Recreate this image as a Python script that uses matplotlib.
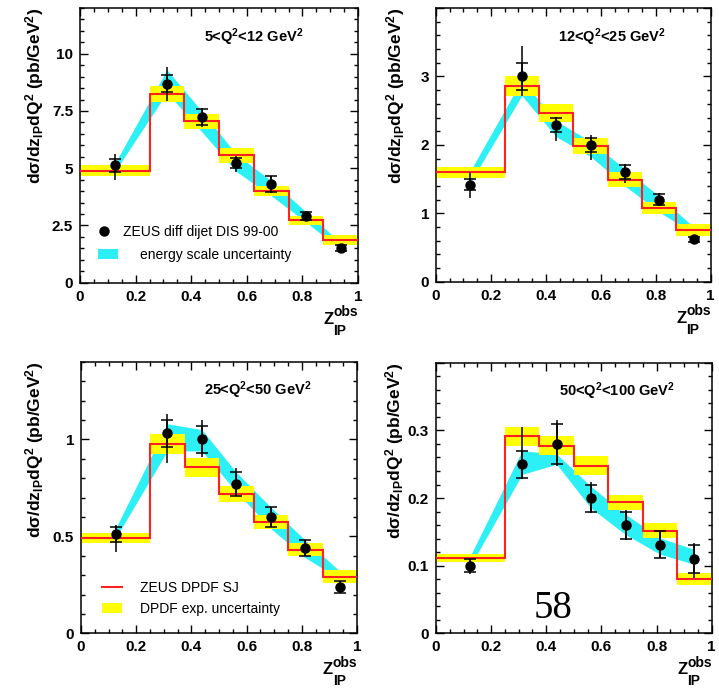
"""
ZEUS diffractive dijets in DIS: d(sigma)/dz_IP dQ^2 in four Q^2 bins,
data vs ZEUS DPDF SJ prediction.
Outputs: out.png
"""

import numpy as np
import matplotlib
matplotlib.use("Agg")
import matplotlib.pyplot as plt
from matplotlib.ticker import MultipleLocator, FormatStrFormatter, FuncFormatter
from matplotlib.lines import Line2D
from matplotlib.patches import Patch

matplotlib.rcParams.update({
    "font.family": "Liberation Sans",
    "mathtext.fontset": "custom",
    "mathtext.rm": "Liberation Sans",
    "mathtext.it": "Liberation Sans:italic",
    "mathtext.bf": "Liberation Sans:bold",
    "mathtext.default": "bf",
})

CYAN   = "#2CF0F6"
YELLOW = "#FFFF00"
RED    = "#FF2020"

# z_IP^obs binning (first bin is wide)
EDGES   = [0.0, 0.25, 0.375, 0.5, 0.625, 0.75, 0.875, 1.0]
CENTERS = [0.125, 0.3125, 0.4375, 0.5625, 0.6875, 0.8125, 0.9375]

# ── 5 < Q^2 < 12 ────────────────────────────────────────────────────────────
Q1_LABEL  = "5<Q$^2$<12 GeV$^2$"
Q1_Y      = [5.12, 8.70, 7.23, 5.23, 4.31, 2.92, 1.53]
Q1_STAT   = [0.28, 0.37, 0.36, 0.23, 0.34, 0.17, 0.13]
Q1_TOT_UP = [0.50, 0.70, 0.40, 0.30, 0.36, 0.22, 0.18]
Q1_TOT_DN = [0.62, 0.77, 0.45, 0.40, 0.40, 0.20, 0.20]
Q1_SJ     = [4.90, 8.25, 7.05, 5.56, 4.00, 2.72, 1.87]
Q1_SJ_ERR = [0.22, 0.35, 0.33, 0.32, 0.21, 0.21, 0.22]
Q1_ES_HI  = [5.20, 9.30, 7.50, 5.60, 4.45, 3.10, 1.75]
Q1_ES_LO  = [4.85, 8.30, 6.60, 4.85, 3.80, 2.65, 1.45]

# ── 12 < Q^2 < 25 ───────────────────────────────────────────────────────────
Q2_LABEL  = "12<Q$^2$<25 GeV$^2$"
Q2_Y      = [1.42, 3.00, 2.29, 2.00, 1.60, 1.20, 0.62]
Q2_STAT   = [0.08, 0.20, 0.10, 0.10, 0.10, 0.08, 0.04]
Q2_TOT_UP = [0.18, 0.44, 0.12, 0.14, 0.12, 0.10, 0.05]
Q2_TOT_DN = [0.20, 0.29, 0.24, 0.22, 0.15, 0.10, 0.05]
Q2_SJ     = [1.60, 2.86, 2.47, 1.98, 1.49, 1.08, 0.76]
Q2_SJ_ERR = [0.08, 0.14, 0.13, 0.12, 0.11, 0.09, 0.09]
Q2_ES_HI  = [1.62, 2.95, 2.35, 2.05, 1.65, 1.25, 0.80]
Q2_ES_LO  = [1.45, 2.72, 2.12, 1.83, 1.40, 1.02, 0.70]

# ── 25 < Q^2 < 50 ───────────────────────────────────────────────────────────
Q3_LABEL  = "25<Q$^2$<50 GeV$^2$"
Q3_Y      = [0.51, 1.03, 1.00, 0.77, 0.60, 0.44, 0.24]
Q3_STAT   = [0.04, 0.07, 0.07, 0.06, 0.05, 0.04, 0.03]
Q3_TOT_UP = [0.05, 0.10, 0.10, 0.08, 0.05, 0.04, 0.03]
Q3_TOT_DN = [0.09, 0.15, 0.09, 0.06, 0.05, 0.04, 0.03]
Q3_SJ     = [0.490, 0.976, 0.856, 0.719, 0.574, 0.430, 0.291]
Q3_SJ_ERR = [0.027, 0.053, 0.048, 0.041, 0.037, 0.033, 0.034]
Q3_ES_HI  = [0.54, 1.08, 1.05, 0.83, 0.65, 0.48, 0.32]
Q3_ES_LO  = [0.49, 0.94, 0.94, 0.73, 0.54, 0.39, 0.28]

# ── 50 < Q^2 < 100 ──────────────────────────────────────────────────────────
Q4_LABEL  = "50<Q$^2$<100 GeV$^2$"
Q4_Y      = [0.100, 0.250, 0.280, 0.200, 0.160, 0.131, 0.110]
Q4_STAT   = [0.010, 0.020, 0.030, 0.020, 0.020, 0.020, 0.021]
Q4_TOT_UP = [0.010, 0.055, 0.035, 0.024, 0.022, 0.020, 0.024]
Q4_TOT_DN = [0.012, 0.022, 0.032, 0.022, 0.022, 0.020, 0.028]
Q4_SJ     = [0.111, 0.291, 0.277, 0.248, 0.194, 0.152, 0.0805]
Q4_SJ_ERR = [0.006, 0.014, 0.014, 0.014, 0.011, 0.011, 0.009]
Q4_ES_HI  = [0.115, 0.270, 0.265, 0.217, 0.176, 0.141, 0.124]
Q4_ES_LO  = [0.100, 0.235, 0.250, 0.185, 0.146, 0.117, 0.102]

YLABEL = "dσ/dz$_{IP}$dQ$^2$ (pb/GeV$^2$)"


def draw_panel(ax, label, y, stat, tot_up, tot_dn, sj, sj_err, es_hi, es_lo,
               ymax, ymajor, yminor, ylab_x):
    sj = np.array(sj)
    sj_err = np.array(sj_err)

    # energy-scale band between bin centres
    ax.fill_between(CENTERS, es_lo, es_hi, color=CYAN, lw=0, zorder=1)
    # DPDF uncertainty band + central step
    ax.stairs(sj + sj_err, EDGES, baseline=sj - sj_err, fill=True,
              color=YELLOW, lw=0, zorder=2)
    ax.stairs(sj, EDGES, baseline=None, color=RED, lw=1.5, zorder=3)

    # data: total error as plain line, stat error with caps
    ax.errorbar(CENTERS, y, yerr=[tot_dn, tot_up], fmt="none",
                ecolor="black", elinewidth=1.1, capsize=0, zorder=4)
    ax.errorbar(CENTERS, y, yerr=stat, fmt="o", color="black", ms=6.5,
                ecolor="black", elinewidth=1.1, capsize=4.5, capthick=1.1,
                zorder=5)

    ax.set_xlim(0, 1)
    ax.set_ylim(0, ymax)
    ax.xaxis.set_major_locator(MultipleLocator(0.2))
    ax.xaxis.set_minor_locator(MultipleLocator(0.05))
    ax.yaxis.set_major_locator(MultipleLocator(ymajor))
    ax.yaxis.set_minor_locator(MultipleLocator(yminor))
    ax.xaxis.set_major_formatter(FormatStrFormatter("%g"))
    # ROOT style: no label on the very top of the y axis
    ax.yaxis.set_major_formatter(FuncFormatter(
        lambda v, _: "" if v > ymax - 1e-9 else f"{v:g}"))
    ax.tick_params(which="both", direction="in", top=True, right=True,
                   width=1.0)
    ax.tick_params(which="major", length=6, pad=5, labelsize=11)
    ax.tick_params(which="minor", length=3)
    for lab in ax.get_xticklabels() + ax.get_yticklabels():
        lab.set_fontweight("bold")
    for sp in ax.spines.values():
        sp.set_linewidth(1.1)

    ax.text(0.445, 0.895, label, transform=ax.transAxes, fontsize=10.5,
            fontweight="bold", ha="left", va="center")
    ax.text(ylab_x, 1.0, YLABEL, transform=ax.transAxes, rotation=90,
            fontsize=12.5, fontweight="bold", ha="center", va="top")
    # x label: Z with "obs" stacked over "IP"
    ax.text(0.912, -0.135, "Z", transform=ax.transAxes, fontsize=12,
            fontweight="bold", ha="right", va="center")
    ax.text(0.912, -0.123, "obs", transform=ax.transAxes, fontsize=10,
            fontweight="bold", ha="left", va="baseline")
    ax.text(0.912, -0.19, "IP", transform=ax.transAxes, fontsize=10,
            fontweight="bold", ha="left", va="baseline")


fig = plt.figure(figsize=(7.19, 6.92), dpi=100)
ax1 = fig.add_axes([0.1113, 0.5915, 0.3867, 0.3970])
ax2 = fig.add_axes([0.6064, 0.5929, 0.3821, 0.3955])
ax3 = fig.add_axes([0.1127, 0.0848, 0.3839, 0.3925])
ax4 = fig.add_axes([0.6064, 0.0848, 0.3834, 0.3910])

draw_panel(ax1, Q1_LABEL, Q1_Y, Q1_STAT, Q1_TOT_UP, Q1_TOT_DN, Q1_SJ,
           Q1_SJ_ERR, Q1_ES_HI, Q1_ES_LO, 12, 2.5, 0.5, -0.162)
draw_panel(ax2, Q2_LABEL, Q2_Y, Q2_STAT, Q2_TOT_UP, Q2_TOT_DN, Q2_SJ,
           Q2_SJ_ERR, Q2_ES_HI, Q2_ES_LO, 4, 1, 0.2, -0.149)
draw_panel(ax3, Q3_LABEL, Q3_Y, Q3_STAT, Q3_TOT_UP, Q3_TOT_DN, Q3_SJ,
           Q3_SJ_ERR, Q3_ES_HI, Q3_ES_LO, 1.4, 0.5, 0.1, -0.167)
draw_panel(ax4, Q4_LABEL, Q4_Y, Q4_STAT, Q4_TOT_UP, Q4_TOT_DN, Q4_SJ,
           Q4_SJ_ERR, Q4_ES_HI, Q4_ES_LO, 0.4, 0.1, 0.02, -0.149)

# legends (top-left panel: data + energy scale; bottom-left: DPDF)
key_kw = dict(loc="center left", frameon=False, fontsize=10, borderpad=0,
              borderaxespad=0, handlelength=1.45)
leg_a = ax1.legend([Line2D([], [], ls="none", marker="o", color="black",
                           ms=6.5)],
                   ["ZEUS diff dijet DIS 99-00"], bbox_to_anchor=(0.05, 0.185),
                   handletextpad=0.65, **key_kw)
ax1.add_artist(leg_a)
ax1.legend([Patch(facecolor=CYAN, lw=0)], ["energy scale uncertainty"],
           bbox_to_anchor=(0.065, 0.10), handletextpad=1.6, **key_kw)

ax3.legend([Line2D([], [], color=RED, lw=1.5), Patch(facecolor=YELLOW, lw=0)],
           ["ZEUS DPDF SJ", "DPDF exp. uncertainty"],
           bbox_to_anchor=(0.076, 0.129), handletextpad=1.3, **key_kw)

fig.text(553 / 719, 1 - 608 / 692, "58", family="Liberation Serif",
         fontsize=28, ha="center", va="center")

fig.savefig("out.png", dpi=100)
